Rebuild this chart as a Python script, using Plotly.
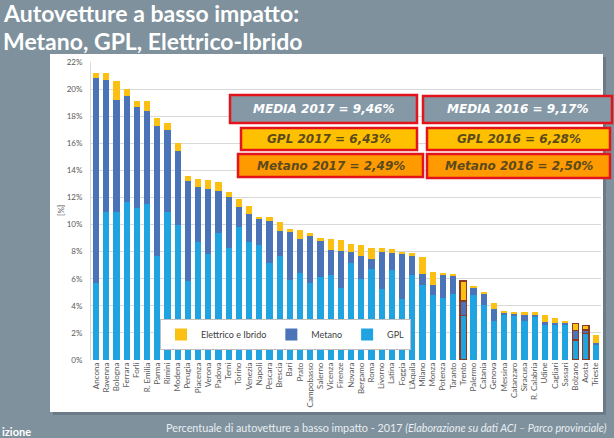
import plotly.graph_objects as go

cities = ["Ancona", "Ravenna", "Bologna", "Ferrara", "Forlì", "R. Emilia", "Parma", "Rimini",
          "Modena", "Perugia", "Piacenza", "Verona", "Padova", "Terni", "Torino", "Venezia",
          "Napoli", "Pescara", "Brescia", "Bari", "Prato", "Campobasso", "Salerno", "Vicenza",
          "Firenze", "Novara", "Bergamo", "Roma", "Livorno", "Latina", "Foggia", "L'Aquila",
          "Milano", "Monza", "Potenza", "Taranto", "Trento", "Palermo", "Catania", "Genova",
          "Messina", "Catanzaro", "Siracusa", "R. Calabria", "Udine", "Cagliari", "Sassari",
          "Bolzano", "Aosta", "Trieste"]

gpl = [5.7, 10.9, 10.9, 11.7, 11.2, 11.55, 7.7, 10.9, 10.0, 5.85, 8.7, 7.8, 9.35, 8.3, 9.8, 8.7,
       8.5, 7.13, 7.7, 5.9, 6.44, 5.7, 6.13, 6.3, 5.29, 7.13, 5.95, 6.72, 5.27, 6.64, 4.53, 6.27,
       5.53, 4.8, 4.55, 4.9, 3.27, 4.79, 4.06, 2.9, 3.32, 3.24, 2.9, 3.15, 2.65, 2.65, 2.65,
       1.47, 1.97, 1.18]

metano = [15.1, 9.8, 8.3, 7.8, 7.5, 6.85, 9.6, 6.05, 5.4, 7.35, 4.05, 4.8, 3.1, 3.75, 1.5, 2.05,
          1.95, 3.14, 1.84, 3.56, 2.53, 3.45, 2.72, 1.8, 2.76, 0.86, 1.72, 0.71, 2.68, 1.25, 3.34,
          1.42, 0.81, 0.73, 1.79, 1.32, 1.08, 0.5, 0.84, 0.84, 0.17, 0.2, 0.42, 0.17, 0.13, 0.05,
          0.13, 0.69, 0.24, 0.05]

elettrico = [0.4, 0.5, 1.4, 0.5, 0.45, 0.7, 0.6, 0.55, 0.65, 0.35, 0.6, 0.7, 0.67, 0.35, 0.55, 0.6,
             0.1, 0.28, 0.62, 0.24, 0.62, 0.2, 0.14, 0.85, 0.8, 0.54, 0.8, 0.87, 0.3, 0.27, 0.12,
             0.22, 1.23, 0.98, 0.1, 0.08, 1.48, 0.19, 0.12, 0.44, 0.07, 0.12, 0.19, 0.19, 0.54,
             0.37, 0.12, 0.54, 0.32, 0.61]

highlighted = ["Trento", "Bolzano", "Aosta"]

y_ticks = list(range(0, 23, 2))

boxes = [
    ("MEDIA 2017 = 9,46%", "media"),
    ("GPL 2017 = 6,43%", "gpl"),
    ("Metano 2017 = 2,49%", "metano"),
    ("MEDIA 2016 = 9,17%", "media"),
    ("GPL 2016 = 6,28%", "gpl"),
    ("Metano 2016 = 2,50%", "metano"),
]
# pixel rectangles of the boxes (x0, x1, y0, y1) - layout only
box_px = [(230, 417, 95, 123), (241, 417, 128, 150), (238, 423, 154, 177),
          (423, 612, 96, 123), (427, 610, 128, 150), (427, 610, 154, 178)]

BG = "#7e919d"
C_GPL = "#1fa3e1"
C_MET = "#4a73b8"
C_EL = "#fcc012"
GRID = "#d9d9d9"
TXT = "#595959"

W, H = 614, 438
L, R, T, B = 91, 13, 62, 78
PW, PH = W - L - R, H - T - B


def px(x):
    return (x - L) / PW


def py(y):
    return (H - B - y) / PH


lw = [1.3 if c in highlighted else 0 for c in cities]
LC = "#8a3b24"

fig = go.Figure()
fig.add_bar(x=cities, y=gpl, name="GPL", marker=dict(color=C_GPL, line=dict(width=lw, color=LC)))
fig.add_bar(x=cities, y=metano, name="Metano", marker=dict(color=C_MET, line=dict(width=lw, color=LC)))
fig.add_bar(x=cities, y=elettrico, name="Elettrico e Ibrido", marker=dict(color=C_EL, line=dict(width=lw, color=LC)))

shapes = [
    dict(type="rect", xref="paper", yref="paper", x0=px(53), x1=px(606), y0=py(415), y1=py(57),
         fillcolor="#5d6d78", line=dict(width=0), layer="below", opacity=0.6),
    dict(type="rect", xref="paper", yref="paper", x0=px(50), x1=px(603), y0=py(412), y1=py(54),
         fillcolor="white", line=dict(width=0), layer="below"),
]
fills = {"media": "#8598a6", "gpl": "#ffc000", "metano": "#ff9a00"}
tcol = {"media": "white", "gpl": "#5b4a1c", "metano": "#5b4a1c"}
annotations = []
for (text, kind), (x0, x1, y0, y1) in zip(boxes, box_px):
    shapes.append(dict(type="rect", xref="paper", yref="paper", x0=px(x0), x1=px(x1),
                       y0=py(y1), y1=py(y0), fillcolor=fills[kind],
                       line=dict(color="#e3141b", width=2.5), layer="above"))
    annotations.append(dict(text="<b><i>" + text + "</i></b>", xref="paper", yref="paper",
                            x=px((x0 + x1) / 2), y=py((y0 + y1) / 2), showarrow=False,
                            xanchor="center", yanchor="middle",
                            font=dict(family="DejaVu Sans", size=12, color=tcol[kind])))

annotations += [
    dict(text="Autovetture a basso impatto:", xref="paper", yref="paper", x=px(1), y=py(13),
         xanchor="left", yanchor="middle", showarrow=False,
         font=dict(family="Lato", size=23, color="white", weight="bold")),
    dict(text="Metano, GPL, Elettrico-Ibrido", xref="paper", yref="paper", x=px(1), y=py(41),
         xanchor="left", yanchor="middle", showarrow=False,
         font=dict(family="Lato", size=23, color="white", weight="bold")),
    dict(text="[%]", xref="paper", yref="paper", x=px(61), y=py(211), textangle=-90,
         xanchor="center", yanchor="middle", showarrow=False,
         font=dict(family="Lato", size=8, color=TXT)),
    dict(text="Percentuale di autovetture a basso impatto - 2017 <i>(Elaborazione su dati ACI – Parco provinciale)</i>",
         xref="paper", yref="paper", x=px(609), y=py(428), xanchor="right", yanchor="middle",
         showarrow=False, font=dict(family="Lato", size=10.8, color="#e9eef2")),
    dict(text="<b>izione</b>", xref="paper", yref="paper", x=px(0), y=py(431), xanchor="left",
         yanchor="middle", showarrow=False, font=dict(family="Lato", size=11, color="white")),
]

fig.update_layout(
    width=W, height=H, margin=dict(l=L, r=R, t=T, b=B, pad=0),
    paper_bgcolor=BG, plot_bgcolor="white", barmode="stack", bargap=0.38,
    shapes=shapes, annotations=annotations,
    legend=dict(orientation="h", x=px(160), y=py(319), xanchor="left", yanchor="top",
                bgcolor="white", bordercolor="#bfbfbf", borderwidth=1, traceorder="reversed",
                font=dict(family="Lato", size=9, color="#404040"), itemwidth=30,
                tracegroupgap=0),
    xaxis=dict(type="category", tickangle=-90, tickfont=dict(family="Lato", size=8, color=TXT),
               showgrid=False, showline=False, ticks="", range=[-0.5, len(cities) - 0.5]),
    yaxis=dict(range=[0, 22], tickvals=y_ticks, ticktext=[f"{v}%" for v in y_ticks],
               tickfont=dict(family="Lato", size=8, color=TXT), gridcolor=GRID, gridwidth=1,
               showline=True, linecolor=GRID, zeroline=False, ticks="outside", ticklen=6,
               tickcolor="rgba(0,0,0,0)"),
)

fig.write_html("out.html")
